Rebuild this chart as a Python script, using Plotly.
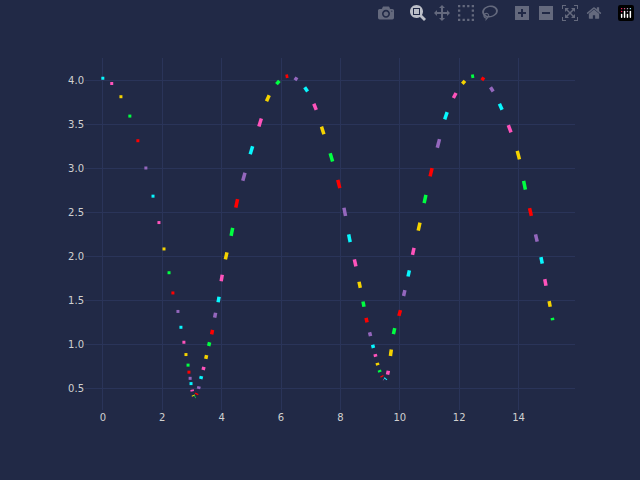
import plotly.graph_objects as go

# points (curve centres), in order
xs = [0, 0.30, 0.61, 0.91, 1.18, 1.45, 1.69, 1.89, 2.06, 2.23, 2.36, 2.53, 2.63, 2.73, 2.80, 2.87, 2.90, 2.94, 2.97,
      3.01, 3.05, 3.10, 3.16, 3.23, 3.31, 3.39, 3.48, 3.58, 3.68, 3.78, 3.9, 4.0, 4.15, 4.35, 4.5, 4.75, 5.0, 5.3,
      5.55, 5.9, 6.2, 6.5, 6.85, 7.15, 7.4, 7.7, 7.95, 8.15, 8.3, 8.5, 8.65, 8.78, 8.88, 9.0, 9.1, 9.18, 9.25, 9.32,
      9.4, 9.47, 9.52, 9.6, 9.7, 9.8, 10.0, 10.15, 10.3, 10.45, 10.65, 10.85, 11.05, 11.3, 11.55, 11.85, 12.15,
      12.45, 12.8, 13.1, 13.4, 13.7, 14.0, 14.2, 14.4, 14.6, 14.78, 14.9, 15.05, 15.15]
ys = [4.02, 3.96, 3.81, 3.59, 3.31, 3.00, 2.68, 2.38, 2.08, 1.81, 1.58, 1.37, 1.19, 1.02, 0.88, 0.76, 0.68, 0.61, 0.55,
      0.47, 0.41, 0.40, 0.43, 0.50, 0.62, 0.72, 0.85, 1.0, 1.13, 1.33, 1.5, 1.75, 2.0, 2.27, 2.6, 2.9, 3.2, 3.52,
      3.8, 3.98, 4.05, 4.02, 3.9, 3.7, 3.43, 3.12, 2.82, 2.5, 2.2, 1.92, 1.67, 1.45, 1.27, 1.11, 0.97, 0.87, 0.77, 0.69,
      0.63, 0.6, 0.6, 0.66, 0.9, 1.15, 1.35, 1.58, 1.8, 2.05, 2.33, 2.65, 2.95, 3.28, 3.6, 3.83, 3.98,
      4.05, 4.02, 3.9, 3.7, 3.45, 3.15, 2.8, 2.5, 2.2, 1.95, 1.7, 1.45, 1.27]
palette = ["#08F7FE", "#FE53BB", "#F5D300", "#00ff41", "#FF0000", "#9467bd"]
n_dots = 19

fig = go.Figure()
for i in range(len(xs)):
    c = palette[i % len(palette)]
    if i < n_dots:
        fig.add_trace(go.Scatter(x=[xs[i]], y=[ys[i]], mode="markers",
                                 marker=dict(color=c, size=3, symbol="square"), showlegend=False))
        continue
    p = max(i - 1, 0)
    q = min(i + 1, len(xs) - 1)
    x0 = xs[i] - 0.15 * (xs[i] - xs[p])
    y0 = ys[i] - 0.15 * (ys[i] - ys[p])
    x1 = xs[i] + 0.15 * (xs[q] - xs[i])
    y1 = ys[i] + 0.15 * (ys[q] - ys[i])
    fig.add_trace(go.Scatter(x=[x0, x1], y=[y0, y1], mode="lines",
                             line=dict(color=c, width=3.5), showlegend=False))

fig.update_layout(
    width=640, height=480,
    paper_bgcolor="#212946", plot_bgcolor="#212946",
    margin=dict(l=85, r=65, t=58, b=70),
    font=dict(family="DejaVu Sans", size=10, color="#D0D0D0"),
)
fig.update_xaxes(range=[-0.6, 15.9], dtick=2, showgrid=True, gridcolor="#2A3459",
                 zeroline=False, showline=False, ticks="")
fig.update_yaxes(range=[0.25, 4.25], dtick=0.5, tickformat=".1f", showgrid=True, gridcolor="#2A3459",
                 zeroline=False, showline=False, ticks="")
fig.write_html("out.html",
               post_script="document.body.style.margin='0';document.body.style.background='#212946';")
